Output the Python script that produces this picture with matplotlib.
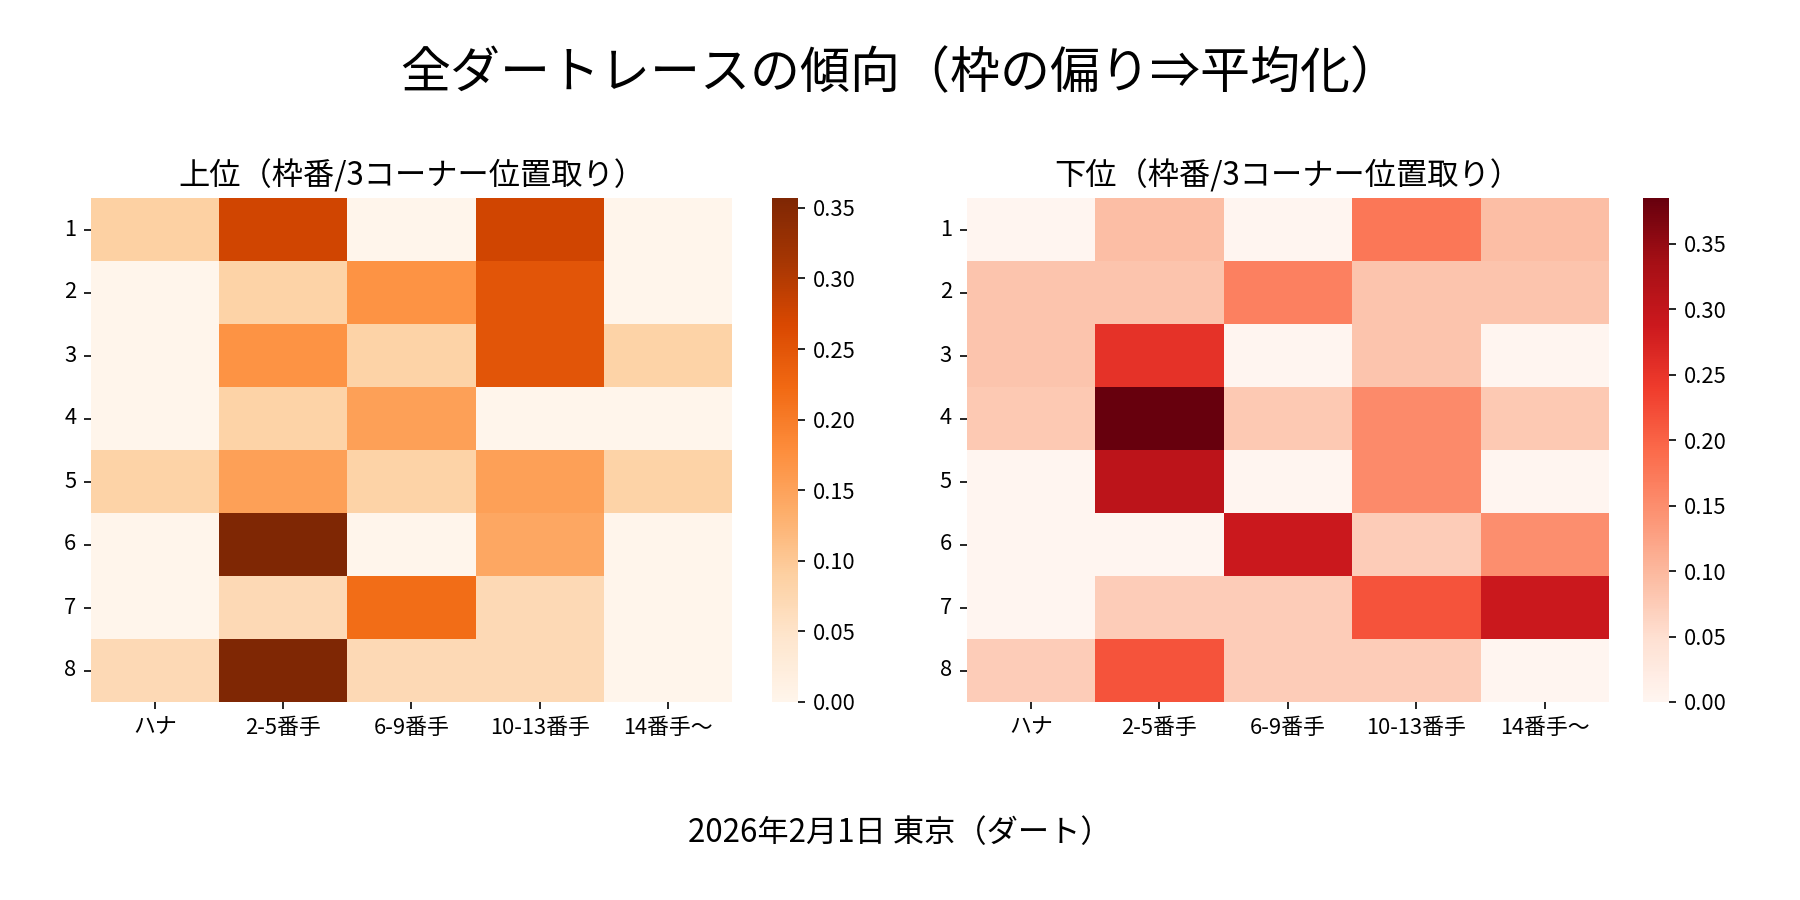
import matplotlib
matplotlib.use("Agg")
import matplotlib.pyplot as plt
import numpy as np
import pandas as pd
import seaborn as sns

plt.rcParams['font.family'] = ['Noto Sans CJK JP', 'DejaVu Sans']
plt.rcParams['xtick.labelsize'] = 10.5
plt.rcParams['ytick.labelsize'] = 10.5

# 枠番 x 3コーナー位置取り
gates = [1, 2, 3, 4, 5, 6, 7, 8]
positions = ["ハナ", "2-5番手", "6-9番手", "10-13番手", "14番手〜"]

upper = [
    [0.088, 0.275, 0.000, 0.275, 0.000],
    [0.000, 0.085, 0.171, 0.250, 0.000],
    [0.000, 0.171, 0.085, 0.250, 0.085],
    [0.000, 0.085, 0.153, 0.000, 0.000],
    [0.085, 0.153, 0.085, 0.153, 0.085],
    [0.000, 0.357, 0.000, 0.143, 0.000],
    [0.000, 0.071, 0.218, 0.071, 0.000],
    [0.071, 0.357, 0.071, 0.071, 0.000],
]

lower = [
    [0.000, 0.092, 0.000, 0.177, 0.092],
    [0.085, 0.085, 0.166, 0.085, 0.085],
    [0.085, 0.254, 0.000, 0.085, 0.000],
    [0.079, 0.385, 0.079, 0.154, 0.079],
    [0.000, 0.308, 0.000, 0.154, 0.000],
    [0.000, 0.000, 0.289, 0.075, 0.150],
    [0.000, 0.075, 0.075, 0.216, 0.289],
    [0.075, 0.216, 0.075, 0.075, 0.000],
]

df_upper = pd.DataFrame(upper, index=gates, columns=positions)
df_lower = pd.DataFrame(lower, index=gates, columns=positions)

fig = plt.figure(figsize=(12, 6), dpi=150)
ax1 = fig.add_axes([0.0506, 0.22, 0.356, 0.56])
cax1 = fig.add_axes([0.4289, 0.22, 0.0144, 0.56])
ax2 = fig.add_axes([0.537, 0.22, 0.357, 0.56])
cax2 = fig.add_axes([0.913, 0.22, 0.0144, 0.56])

sns.heatmap(df_upper, cmap="Oranges", ax=ax1, cbar_ax=cax1)
ax1.set_title("上位（枠番/3コーナー位置取り）", fontsize=15)

sns.heatmap(df_lower, cmap="Reds", ax=ax2, cbar_ax=cax2)
ax2.set_title("下位（枠番/3コーナー位置取り）", fontsize=15)

for ax in (ax1, ax2):
    ax.tick_params(axis='y', rotation=0)
    ax.tick_params(axis='x', rotation=0)
for cax in (cax1, cax2):
    cax.tick_params(labelsize=10.5)

fig.suptitle("全ダートレースの傾向（枠の偏り⇒平均化）", fontsize=24, y=0.917, va='center')
fig.text(0.5, 0.074, "2026年2月1日 東京（ダート）", ha='center', va='center', fontsize=15)

plt.savefig("out.png")
